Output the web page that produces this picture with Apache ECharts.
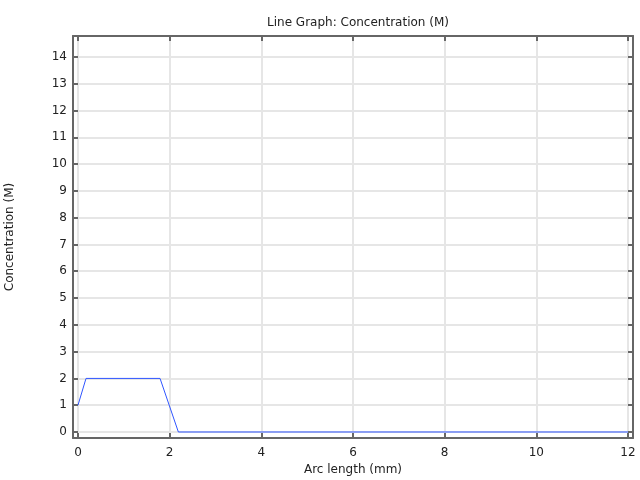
<!DOCTYPE html>
<html><head><meta charset="utf-8">
<script src="https://cdn.jsdelivr.net/npm/echarts@6/dist/echarts.min.js"></script>
<style>html,body{margin:0;padding:0;background:#fff}#c{width:640px;height:480px}</style>
</head><body><div id="c"></div>
<script>
const arcLength = [0, 0.175, 1.79, 2.19, 12];
const concentration = [1, 2, 2, 0, 0];
const xTicks = [0, 2, 4, 6, 8, 10, 12];
const yTicks = [0, 1, 2, 3, 4, 5, 6, 7, 8, 9, 10, 11, 12, 13, 14];

const font = 'DejaVu Sans';
const axisCol = '#666';
const gridCol = '#e6e6e6';
const chart = echarts.init(document.getElementById('c'), null, {renderer: 'canvas'});
function xAxis(pos, show) {
  return {
    type: 'value', position: pos, min: -0.109, max: 12.109,
    axisLine: {show: true, onZero: false, lineStyle: {color: axisCol, width: 2}},
    axisTick: {show: true, inside: true, length: 5, customValues: xTicks, lineStyle: {color: axisCol, width: 2}},
    axisLabel: {show: show, customValues: xTicks, color: '#222', fontFamily: font, fontSize: 12, margin: 9},
    splitLine: {show: show, lineStyle: {color: gridCol, width: 2}},
    name: show ? 'Arc length (mm)' : '', nameLocation: 'middle', nameGap: 25,
    nameTextStyle: {color: '#222', fontFamily: font, fontSize: 12}
  };
}
function yAxis(pos, show) {
  return {
    type: 'value', position: pos, min: -0.224, max: 14.78,
    axisLine: {show: true, onZero: false, lineStyle: {color: axisCol, width: 2}},
    axisTick: {show: true, inside: true, length: 5, customValues: yTicks, lineStyle: {color: axisCol, width: 2}},
    axisLabel: {show: show, customValues: yTicks, color: '#222', fontFamily: font, fontSize: 12, margin: 6},
    splitLine: {show: show, lineStyle: {color: gridCol, width: 2}},
    name: show ? 'Concentration (M)' : '', nameLocation: 'middle', nameGap: 57,
    nameTextStyle: {color: '#222', fontFamily: font, fontSize: 12}
  };
}
chart.setOption({
  animation: false,
  title: {text: 'Line Graph: Concentration (M)', left: 353, top: 12, textAlign: 'center',
    textStyle: {fontFamily: font, fontSize: 12, fontWeight: 'normal', color: '#222'}},
  grid: {left: 73, right: 7, top: 36, bottom: 42, containLabel: false, outerBoundsMode: 'none'},
  xAxis: [xAxis('bottom', true), xAxis('top', false)],
  yAxis: [yAxis('left', true), yAxis('right', false)],
  series: [{
    type: 'line', xAxisIndex: 0, yAxisIndex: 0, symbol: 'none',
    data: arcLength.map((x, i) => [x, concentration[i]]),
    lineStyle: {color: '#2f55ff', width: 1}
  }]
});
</script></body></html>
